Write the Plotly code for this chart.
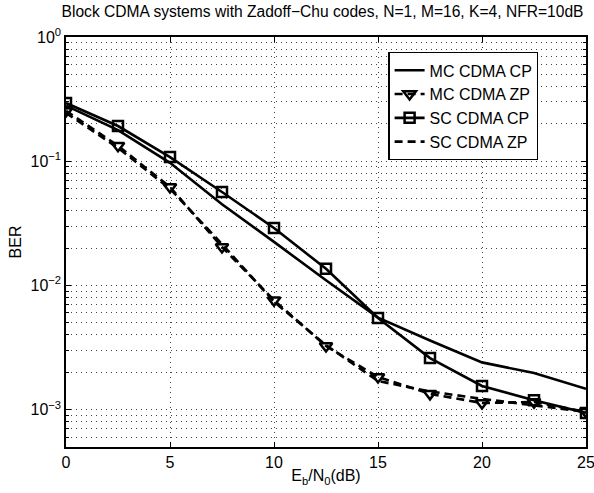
import plotly.graph_objects as go

ebn0 = [0, 2.5, 5, 7.5, 10, 12.5, 15, 17.5, 20, 22.5, 25]

mc_cp = [0.280, 0.178, 0.097, 0.045, 0.0224, 0.0110, 0.0055, 0.0036, 0.0024, 0.00197, 0.00147]
mc_zp = [0.254, 0.133, 0.062, 0.0204, 0.0076, 0.00325, 0.00183, 0.00134, 0.00113, 0.00115, 0.00096]
sc_cp = [0.294, 0.192, 0.108, 0.0565, 0.029, 0.0136, 0.00547, 0.0026, 0.00155, 0.00119, 0.00094]
sc_zp = [0.245, 0.128, 0.060, 0.0215, 0.0074, 0.0033, 0.0017, 0.0014, 0.00122, 0.00108, 0.00096]

names = ["MC CDMA CP", "MC CDMA ZP", "SC CDMA CP", "SC CDMA ZP"]
ytickvals = [1e-3, 1e-2, 1e-1, 1]
yticktext = ["10<sup>−3</sup>", "10<sup>−2</sup>", "10<sup>−1</sup>", "10<sup>0</sup>"]
xtickvals = [0, 5, 10, 15, 20, 25]

fig = go.Figure()
lw = 2.6
dash = "8px,5px"
fig.add_trace(go.Scatter(x=ebn0, y=mc_cp, name=names[0], mode="lines",
                         line=dict(color="black", width=lw)))
fig.add_trace(go.Scatter(x=ebn0, y=mc_zp, name=names[1], mode="lines+markers",
                         line=dict(color="black", width=lw, dash=dash),
                         marker=dict(symbol="triangle-down-open", size=11, color="black",
                                     line=dict(width=2.5, color="black"))))
fig.add_trace(go.Scatter(x=ebn0, y=sc_cp, name=names[2], mode="lines+markers",
                         line=dict(color="black", width=lw),
                         marker=dict(symbol="square-open", size=10, color="black",
                                     line=dict(width=2.5, color="black"))))
fig.add_trace(go.Scatter(x=ebn0, y=sc_zp, name=names[3], mode="lines",
                         line=dict(color="black", width=lw, dash=dash)))

font = "Liberation Sans, Arial, Helvetica, sans-serif"
W, H = 594, 493
grid_col = "#444"
grid_dash = "1px,4px"
fig.update_layout(
    width=W, height=H,
    margin=dict(l=66, r=8, t=37, b=46, autoexpand=False),
    paper_bgcolor="white", plot_bgcolor="white",
    font=dict(family=font, size=16, color="black"),
    title=dict(text="Block CDMA systems with Zadoff−Chu codes, N=1, M=16, K=4, NFR=10dB",
               x=322.5 / W, xanchor="center", y=1 - 12 / H, yanchor="middle",
               font=dict(size=15.6, family=font)),
    showlegend=True,
    legend=dict(x=0.62, y=0.963, xanchor="left", yanchor="top",
                bgcolor="white", bordercolor="black", borderwidth=1.2,
                font=dict(size=16, family=font), tracegroupgap=0),
    xaxis=dict(range=[0, 25], tickvals=xtickvals, ticks="inside", ticklen=5,
               tickcolor="black", showline=True, linecolor="black", linewidth=1.5,
               mirror="ticks", showgrid=True, gridcolor=grid_col, griddash=grid_dash,
               gridwidth=1, zeroline=False, automargin=False, ticklabeloverflow="allow",
               title=dict(text="E<sub>b</sub>/N<sub>0</sub>(dB)", standoff=0,
                          font=dict(size=16))),
    yaxis=dict(type="log", range=[-3.301, 0], tickvals=ytickvals, ticktext=yticktext,
               ticks="inside", ticklen=5, tickcolor="black", showline=True,
               linecolor="black", linewidth=1.5, mirror="ticks", showgrid=True,
               gridcolor=grid_col, griddash=grid_dash, gridwidth=1, zeroline=False,
               automargin=False, ticklabeloverflow="allow",
               minor=dict(dtick="D1", showgrid=True, gridcolor=grid_col, griddash=grid_dash,
                          ticks="inside", ticklen=3, tickcolor="black"),
               title=dict(text="BER", standoff=5, font=dict(size=16))),
)
fig.write_html("out.html", config={"displayModeBar": False},
               post_script="document.body.style.margin='0';document.body.style.overflow='hidden';")
